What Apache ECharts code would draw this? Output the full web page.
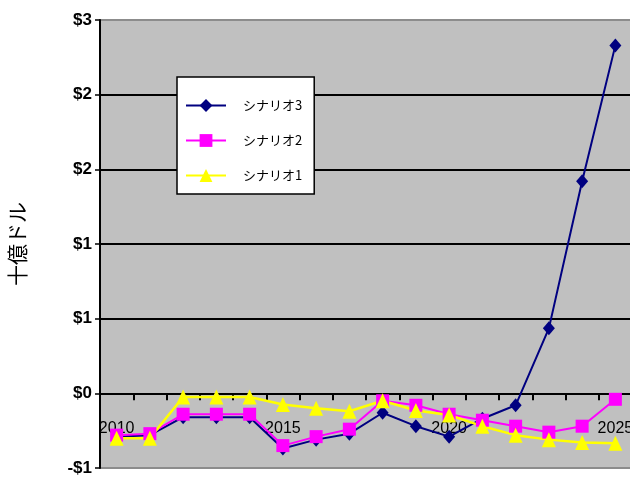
<!DOCTYPE html>
<html>
<head>
<meta charset="utf-8">
<script src="https://cdn.jsdelivr.net/npm/echarts@6/dist/echarts.min.js"></script>
<style>
  html, body { margin: 0; padding: 0; background: #ffffff; }
  #chart { width: 630px; height: 479px; }
</style>
</head>
<body>
<div id="chart"></div>
<script>
// Years on the category axis
const years = ['2010','2011','2012','2013','2014','2015','2016','2017','2018','2019','2020','2021','2022','2023','2024','2025'];

// Values in billions of dollars
const scenario3 = [-0.29, -0.28, -0.16, -0.16, -0.16, -0.37, -0.31, -0.27, -0.13, -0.22, -0.29, -0.17, -0.08, 0.435, 1.42, 2.33];
const scenario2 = [-0.28, -0.27, -0.14, -0.14, -0.14, -0.35, -0.29, -0.24, -0.05, -0.08, -0.14, -0.18, -0.22, -0.26, -0.22, -0.04];
const scenario1 = [-0.30, -0.30, -0.025, -0.025, -0.025, -0.075, -0.10, -0.12, -0.05, -0.115, -0.145, -0.22, -0.28, -0.31, -0.33, -0.335];

const seriesNames = ['シナリオ3', 'シナリオ2', 'シナリオ1'];
const yTitle = '十億ドル';

// Value range of the y axis
const yMin = -0.5, yMax = 2.5, yStep = 0.5;

// Dollar labels rounded to whole values
function dollar(v) {
  if (v < 0) return '-$' + Math.round(-v);
  return '$' + Math.round(v);
}

const W = 630, H = 479;
const gridTop = 20, gridBottom = 11;
const plotH = H - gridTop - gridBottom;
// lift the category axis from the bottom edge up to the zero line
const zeroOffset = -plotH * (0 - yMin) / (yMax - yMin);

const chart = echarts.init(document.getElementById('chart'), null, { renderer: 'canvas' });

const latin = 'Liberation Sans, Arial, sans-serif';
const cjk = 'Noto Sans CJK JP, sans-serif';

chart.setOption({
  animation: false,
  backgroundColor: '#ffffff',
  grid: {
    left: 100, right: -2, top: gridTop, bottom: gridBottom,
    outerBoundsMode: 'none',
    containLabel: false,
    show: true, backgroundColor: '#c0c0c0', borderWidth: 0
  },
  legend: {
    orient: 'vertical',
    left: 177, top: 77,
    data: seriesNames,
    backgroundColor: '#ffffff',
    borderColor: '#000000',
    borderWidth: 1.5,
    padding: [22, 12, 12, 8],
    itemWidth: 40,
    itemHeight: 16,
    itemGap: 22,
    textStyle: { fontFamily: cjk, fontSize: 13, color: '#000000', padding: [0, 0, 0, 12] }
  },
  xAxis: {
    type: 'category',
    data: years,
    boundaryGap: true,
    position: 'bottom',
    offset: zeroOffset,
    axisLine: { onZero: false, lineStyle: { color: '#000000', width: 2 } },
    axisTick: { show: true, interval: 0, length: 7, lineStyle: { color: '#000000', width: 2 } },
    axisLabel: { interval: 4, fontFamily: latin, fontSize: 16, color: '#000000', margin: 27 },
    splitLine: { show: false }
  },
  yAxis: {
    type: 'value',
    min: yMin, max: yMax, interval: yStep,
    name: yTitle,
    nameLocation: 'middle',
    nameRotate: 90,
    nameGap: 72,
    nameTextStyle: { fontFamily: cjk, fontSize: 21, color: '#000000' },
    axisLine: { show: true, lineStyle: { color: '#000000', width: 2 } },
    axisTick: { show: true, length: 5, lineStyle: { color: '#000000', width: 1.5 } },
    axisLabel: { formatter: dollar, fontFamily: latin, fontWeight: 'bold', fontSize: 17, color: '#000000', margin: 8 },
    splitLine: {
      show: true,
      lineStyle: { color: ['#8c8c8c', '#000000', '#000000', '#000000', '#000000', '#000000', '#8c8c8c'], width: 2 }
    }
  },
  series: [
    {
      name: seriesNames[0], type: 'line', data: scenario3,
      symbol: 'diamond', symbolSize: [12, 14],
      lineStyle: { color: '#000080', width: 2 },
      itemStyle: { color: '#000080' }
    },
    {
      name: seriesNames[1], type: 'line', data: scenario2,
      symbol: 'rect', symbolSize: 13,
      lineStyle: { color: '#ff00ff', width: 2 },
      itemStyle: { color: '#ff00ff' }
    },
    {
      name: seriesNames[2], type: 'line', data: scenario1,
      symbol: 'triangle', symbolSize: [14, 15],
      lineStyle: { color: '#ffff00', width: 2.5 },
      itemStyle: { color: '#ffff00' }
    }
  ]
});
</script>
</body>
</html>
